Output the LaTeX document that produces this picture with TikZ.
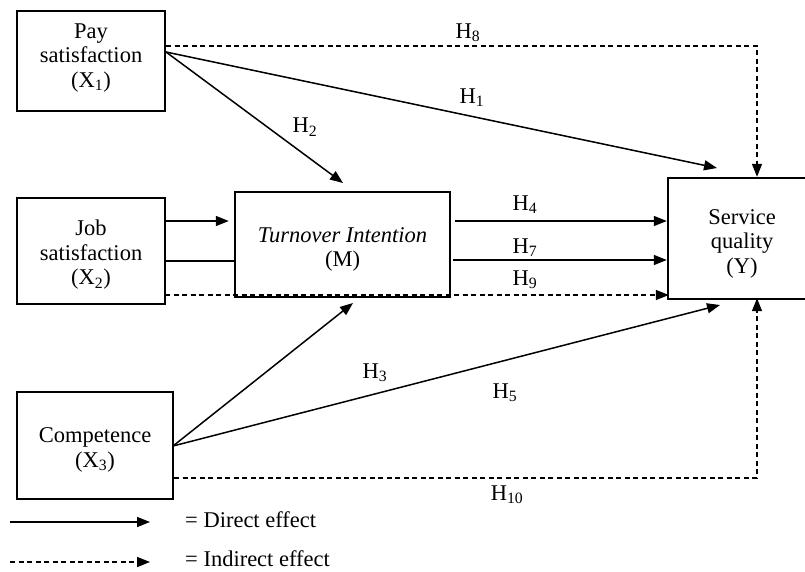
\documentclass[tikz,border=0pt]{standalone}
\usepackage{fontspec}
\setmainfont{Liberation Serif}
\usetikzlibrary{arrows.meta}
\begin{document}
\begin{tikzpicture}[x=1pt,y=-1pt,
  box/.style={draw,line width=2.4pt,inner sep=0pt},
  txt/.style={inner sep=0pt,align=center,font=\fontsize{22.5}{24.5}\selectfont},
  lab/.style={inner sep=0pt,font=\fontsize{22.5}{24}\selectfont},
  conn/.style={line width=1.5pt,-{Triangle[length=13pt,width=10pt]}},
  plain/.style={line width=1.5pt},
  ind/.style={line width=1.5pt,dash pattern=on 5pt off 3.5pt,-{Triangle[length=13pt,width=10pt]}}]
\useasboundingbox (0,0) rectangle (805,571);
\clip (0,0) rectangle (805,571);
\fill[white] (0,0) rectangle (805,571);
% boxes
\node[box,minimum width=148pt,minimum height=100pt] (X1) at (91,61) {};
\node[box,minimum width=148pt,minimum height=106pt] (X2) at (91,251) {};
\node[box,minimum width=156pt,minimum height=107pt] (X3) at (95,445.5) {};
\node[box,minimum width=215pt,minimum height=105pt] (M) at (342.5,244.5) {};
\node[box,minimum width=148pt,minimum height=121pt] (Y) at (742,238.5) {};
% box texts
\node[txt] (X1t) at (91,58) {Pay\\satisfaction\\(X\textsubscript{1})};
\node[txt] (X2t) at (91,255) {Job\\satisfaction\\(X\textsubscript{2})};
\node[txt] (X3t) at (95,450) {Competence\\(X\textsubscript{3})};
\node[txt] (Mt) at (342.5,249.5) {\textit{Turnover Intention}\\(M)};
\node[txt] (Yt) at (742,243.5) {Service\\quality\\(Y)};
% coordinates
\coordinate (p1) at (166,52);
\coordinate (t1) at (717,168);
\coordinate (t2) at (343,183);
\coordinate (c8) at (757,46);
\coordinate (p3) at (173,446);
\coordinate (tm) at (353,303);
\coordinate (t3) at (720,305);
\coordinate (c10) at (757,478);
\coordinate (j1) at (165,221);
\coordinate (j2) at (165,261);
\coordinate (j9) at (165,295);
\coordinate (m4) at (455,221);
\coordinate (m7) at (453,260);
% connectors
\draw[ind] (X1.east |- c8) -- (c8) -- (c8 |- Y.north);
\draw[conn] (p1) -- (t1);
\draw[conn] (p1) -- (t2);
\draw[conn] (j1) -- ([xshift=-5pt]M.west |- j1);
\draw[plain] (j2) -- (M.west |- j2);
\draw[ind] (j9) -- ([xshift=2pt]Y.west |- j9);
\draw[conn] (m4) -- (Y.west |- m4);
\draw[conn] (m7) -- (Y.west |- m7);
\draw[conn] (p3) -- (tm);
\draw[conn] (p3) -- (t3);
\draw[ind] (X3.east |- c10) -- (c10) -- ([yshift=2pt]c10 |- Y.south);
% labels
\node[lab] (h8) at (468,33) {H\textsubscript{8}};
\node[lab] (h1) at (472,98) {H\textsubscript{1}};
\node[lab] (h2) at (305,127) {H\textsubscript{2}};
\node[lab] (h4) at (525,205) {H\textsubscript{4}};
\node[lab] (h7) at (525,248) {H\textsubscript{7}};
\node[lab] (h9) at (525,280) {H\textsubscript{9}};
\node[lab] (h3) at (375,373) {H\textsubscript{3}};
\node[lab] (h5) at (505,393) {H\textsubscript{5}};
\node[lab] (h10) at (507,495) {H\textsubscript{10}};
% legend
\coordinate (l1a) at (10,522);
\coordinate (l1b) at (150,522);
\coordinate (l2a) at (10,562);
\coordinate (l2b) at (150,562);
\draw[conn] (l1a) -- (l1b);
\draw[ind] (l2a) -- (l2b);
\node[lab,anchor=west] (d) at (185,520) {= Direct effect};
\node[lab,anchor=west] (i) at (185,558.5) {= Indirect effect};
\end{tikzpicture}
\end{document}
